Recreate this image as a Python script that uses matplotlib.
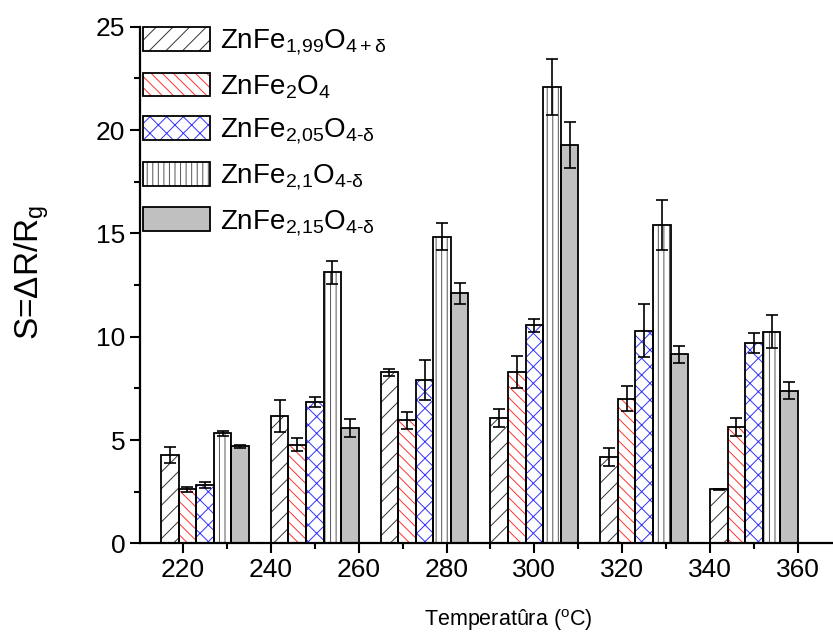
import matplotlib
matplotlib.use("Agg")
import matplotlib.pyplot as plt
import numpy as np
from matplotlib.patches import Patch
from matplotlib.ticker import MultipleLocator

plt.rcParams['font.family'] = ['Liberation Sans', 'DejaVu Sans']
plt.rcParams['mathtext.fontset'] = 'custom'
plt.rcParams['mathtext.rm'] = 'Liberation Sans'
plt.rcParams['mathtext.it'] = 'Liberation Sans:italic'
plt.rcParams['mathtext.bf'] = 'Liberation Sans:bold'
plt.rcParams['hatch.linewidth'] = 0.7

# temperatures of the groups
temps = [225, 250, 275, 300, 325, 350]

labels = [r'ZnFe$_{1{,}99}$O$_{4+\mathrm{\delta}}$',
          r'ZnFe$_{2}$O$_{4}$',
          r'ZnFe$_{2{,}05}$O$_{4\text{-}\mathrm{\delta}}$',
          r'ZnFe$_{2{,}1}$O$_{4\text{-}\mathrm{\delta}}$',
          r'ZnFe$_{2{,}15}$O$_{4\text{-}\mathrm{\delta}}$']

s199 = [4.28, 6.16, 8.28, 6.05, 4.17, 2.62]
s199_err = [0.38, 0.78, 0.18, 0.43, 0.43, 0.03]
s200 = [2.63, 4.78, 5.95, 8.31, 7.00, 5.62]
s200_err = [0.12, 0.30, 0.40, 0.77, 0.60, 0.44]
s205 = [2.83, 6.83, 7.90, 10.55, 10.29, 9.70]
s205_err = [0.13, 0.23, 0.97, 0.32, 1.29, 0.48]
s210 = [5.33, 13.12, 14.84, 22.10, 15.40, 10.24]
s210_err = [0.13, 0.55, 0.65, 1.35, 1.20, 0.80]
s215 = [4.70, 5.57, 12.10, 19.27, 9.15, 7.39]
s215_err = [0.06, 0.43, 0.52, 1.10, 0.40, 0.42]

series = [s199, s200, s205, s210, s215]
errors = [s199_err, s200_err, s205_err, s210_err, s215_err]
hatches = ['//', '\\\\\\', 'xx', '|||', '']
hcolors = ['#333333', '#ff3030', '#3030ff', '#555555', 'none']
fills = ['white', 'white', 'white', 'white', '#c0c0c0']

fig = plt.figure(figsize=(8.33, 6.37), dpi=100)
ax = fig.add_axes([140/833, (637-543.4)/637, 693/833, 516.7/637])

x = np.array(temps, dtype=float)
w = 4.0
handles = []
for i in range(5):
    xi = x + (i - 2) * w
    # fill + hatch in its own colour, then black outline on top
    ax.bar(xi, series[i], width=w, color=fills[i], edgecolor=hcolors[i],
           hatch=hatches[i], linewidth=0, zorder=2)
    ax.bar(xi, series[i], width=w, fill=False, edgecolor='black',
           linewidth=1.3, zorder=3)
    ax.errorbar(xi, series[i], yerr=errors[i], fmt='none', ecolor='black',
                elinewidth=1.2, capsize=4, capthick=1.2, zorder=4)
    h1 = Patch(facecolor=fills[i], edgecolor=hcolors[i], hatch=hatches[i], linewidth=0)
    h2 = Patch(facecolor='none', edgecolor='black', linewidth=1.3)
    handles.append((h1, h2))

ax.set_xlim(210.2, 368)
ax.set_ylim(0, 25)
ax.xaxis.set_minor_locator(MultipleLocator(10))
ax.yaxis.set_major_locator(MultipleLocator(5))
ax.yaxis.set_minor_locator(MultipleLocator(2.5))
ax.set_xticks(np.arange(220, 361, 20))
ax.tick_params(which='major', direction='out', length=7, width=1.5, labelsize=19)
ax.tick_params(which='minor', direction='out', length=4, width=1.5)
ax.spines['top'].set_visible(False)
ax.spines['right'].set_visible(False)
ax.spines['left'].set_linewidth(1.6)
ax.spines['bottom'].set_linewidth(1.6)

ax.set_xlabel(r'Temperatûra ($^{\mathrm{o}}$C)', fontsize=15.5, va='top')
ax.xaxis.set_label_coords(0.532, -0.123)
ax.set_ylabel(r'S=$\Delta$R/R$_{\mathrm{g}}$', fontsize=24)
ax.yaxis.set_label_coords(-0.128, 0.525)

ax.legend(handles, labels, loc='upper left', bbox_to_anchor=(0.005, 1.0),
          frameon=False, fontsize=20, handlelength=2.4, handleheight=0.95,
          labelspacing=0.55, handletextpad=0.35, borderpad=0.0, borderaxespad=0.0)

fig.savefig('out.png', dpi=100)
